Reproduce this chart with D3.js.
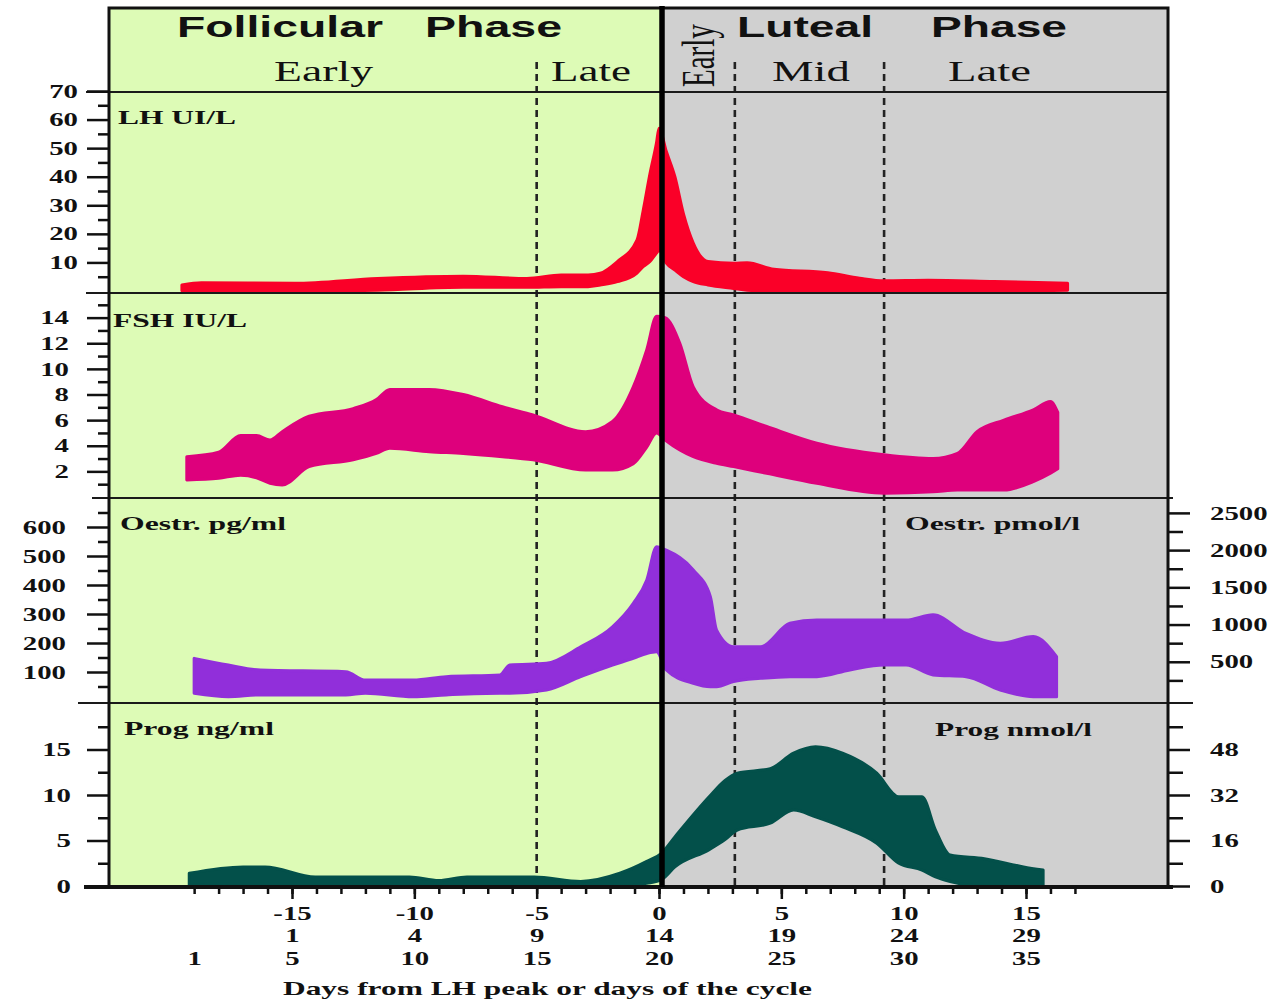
<!DOCTYPE html>
<html>
<head>
<meta charset="utf-8">
<script src="https://cdnjs.cloudflare.com/ajax/libs/d3/7.8.5/d3.min.js"></script>
<style>
  body { margin: 0; background: #fff; }
  svg text { font-family: "Liberation Serif", "Times New Roman", serif; font-weight: bold; fill: #111; }
</style>
</head>
<body>
<div id="chart"></div>
<script>
// days from LH peak, lower and upper edge of each hormone band
var lhDays = [-19.5, -18.7, -14.9, -11.5, -8, -5.4, -4, -2.9, -2.4, -1.7, -0.9, -0.65, -0.37, -0.1, 0, 0.3, 0.65, 1, 1.4, 2, 3.05, 3.6, 4.7, 6.9, 8.2, 9.2, 11, 13.7, 16.7];
var lhLow  = [0.1, 0, 0, 0.3, 1.3, 1.3, 1.5, 1.5, 2.1, 3.3, 6.3, 8.5, 10.3, 13.3, 14.3, 9.8, 7.3, 5, 3.3, 2.1, 0.9, 0.3, 0, 0, 0, 0, 0, 0, 0.3];
var lhHigh = [2.1, 2.9, 2.7, 4.4, 5.2, 4.4, 5.6, 5.6, 6.2, 10.3, 17.8, 28, 41, 52, 57, 48.8, 40, 27, 16.8, 10.3, 9.7, 9.9, 7.6, 6.4, 4.5, 3.6, 3.8, 3.3, 2.7];

var fshDays = [-19.3, -18, -17.1, -16.45, -15.9, -15.4, -14.3, -12.5, -11.55, -11, -9.4, -8, -6.4, -5.15, -3, -1.9, -1.05, -0.5, -0.1, 0.25, 0.85, 1.4, 2.35, 3.05, 4.4, 6.45, 9.2, 11.2, 12.2, 13, 14.1, 15.3, 16, 16.3];
var fshLow  = [1.33, 1.46, 1.7, 1.5, 1.07, 0.94, 2.37, 2.9, 3.4, 3.8, 3.54, 3.4, 3.15, 2.9, 2.1, 2.1, 2.6, 3.9, 5.0, 4.45, 3.67, 3.15, 2.63, 2.37, 1.85, 1.07, 0.3, 0.4, 0.55, 0.55, 0.55, 1.2, 1.85, 2.2];
var fshHigh = [3.15, 3.5, 4.8, 4.8, 4.45, 5.1, 6.3, 6.9, 7.6, 8.4, 8.4, 8.0, 7.05, 6.4, 5.1, 5.9, 8.6, 11.5, 14.1, 14.0, 12.0, 8.6, 6.8, 6.4, 5.5, 4.2, 3.3, 3.0, 3.4, 5.1, 6.0, 6.8, 7.45, 6.6];

var oeDays = [-19, -17.6, -16.3, -12.8, -12, -10.05, -8.7, -6.5, -6.1, -4.6, -3.2, -1.9, -1.05, -0.5, -0.1, 0.3, 1.4, 2.1, 2.35, 3.05, 4.15, 5.35, 6.45, 7.8, 9.2, 10.1, 11.2, 12.55, 13.95, 15.3, 16.25];
var oeLow  = [27, 15, 21, 21, 27, 15, 21, 27, 27, 38, 84, 124, 147, 164, 170, 107, 61, 49, 49, 67, 78, 84, 84, 107, 124, 124, 90, 84, 38, 15, 15];
var oeHigh = [147, 124, 107, 101, 72, 72, 84, 90, 124, 130, 187, 256, 337, 417, 532, 520, 452, 360, 245, 187, 187, 268, 279, 279, 279, 279, 297, 233, 199, 222, 153];

var prDays = [-19.2, -17, -16.1, -14.05, -10.2, -9, -7.85, -5.1, -3.2, -1.6, -0.5, 0.1, 0.65, 2.05, 2.7, 3.2, 4.55, 5.5, 6.4, 7.5, 8.9, 9.8, 10.75, 11.3, 11.9, 13.3, 14.9, 15.7];
var prLow  = [0.1, 0, 0, 0, 0, 0, 0, 0, 0, 0, 0.3, 0.7, 2.1, 4.0, 5.1, 6.15, 6.9, 8.35, 7.6, 6.5, 4.7, 2.5, 1.75, 1.0, 0.5, 0, 0, 0];
var prHigh = [1.4, 2.1, 2.1, 1.0, 1.0, 0.6, 1.0, 1.0, 0.5, 1.4, 2.7, 3.6, 5.4, 9.8, 11.6, 12.4, 12.9, 14.6, 15.3, 14.6, 12.4, 9.8, 9.8, 6.15, 3.4, 3.0, 2.1, 1.75];

// phase borders (dashed lines), days from LH peak
var phaseSplits = [-5, 3.1, 9.2];

// tick labels
var lhTicks = [10, 20, 30, 40, 50, 60, 70];
var fshTicks = [2, 4, 6, 8, 10, 12, 14];
var oeTicks = [100, 200, 300, 400, 500, 600];
var oePmolTicks = [500, 1000, 1500, 2000, 2500];
var prTicks = [0, 5, 10, 15];
var prNmolTicks = [0, 16, 32, 48];
var dayTicks = [-15, -10, -5, 0, 5, 10, 15];
var cycleRow2 = ["1", "4", "9", "14", "19", "24", "29"];
var cycleRow3Days = [-19, -15, -10, -5, 0, 5, 10, 15];
var cycleRow3 = ["1", "5", "10", "15", "20", "25", "30", "35"];

function init() {
    var w = 1282;
    var h = 1002;
    var frameL = 109, frameR = 1168, frameT = 8, frameB = 887;
    var SX = 1.6; // the whole picture is stretched sideways

    var xScale = d3.scaleLinear().domain([-15, 15]).range([292, 1026]);
    var lhY = d3.scaleLinear().domain([0, 70]).range([291, 91]);
    var fshY = d3.scaleLinear().domain([0, 16]).range([497, 292]);
    var oeY = d3.scaleLinear().domain([0, 700]).range([701, 498]);
    var oePmolY = d3.scaleLinear().domain([0, 2700]).range([699, 498]);
    var prY = d3.scaleLinear().domain([0, 20]).range([886, 704]);
    var prNmolY = d3.scaleLinear().domain([0, 64]).range([886, 704]);
    var peakX = xScale(0) + 3;

    var svg = d3.select("#chart")
        .append("svg")
        .attr("width", w)
        .attr("height", h);

    // follicular / luteal backgrounds
    svg.append("rect")
        .attr("x", frameL).attr("y", frameT)
        .attr("width", peakX - frameL).attr("height", frameB - frameT)
        .attr("fill", "#ddfbb6");
    svg.append("rect")
        .attr("x", peakX).attr("y", frameT)
        .attr("width", frameR - peakX).attr("height", frameB - frameT)
        .attr("fill", "#d0d0d0");

    // dashed phase lines
    svg.selectAll(".split")
        .data(phaseSplits)
        .enter()
        .append("line")
        .attr("class", "split")
        .attr("x1", function (d) { return xScale(d); })
        .attr("x2", function (d) { return xScale(d); })
        .attr("y1", 62)
        .attr("y2", frameB)
        .attr("stroke", "#222")
        .attr("stroke-width", 2.6)
        .attr("stroke-dasharray", "7,5");

    // hormone bands
    function band(days, low, high, yScale, color) {
        var rows = days.map(function (d, i) { return [d, low[i], high[i]]; });
        var area = d3.area()
            .x(function (d) { return xScale(d[0]); })
            .y0(function (d) { return yScale(d[1]); })
            .y1(function (d) { return yScale(d[2]); })
            .curve(d3.curveMonotoneX);
        svg.append("path")
            .datum(rows)
            .attr("d", area)
            .attr("fill", color)
            .attr("stroke", color)
            .attr("stroke-width", 3)
            .attr("stroke-linejoin", "round");
    }
    band(lhDays, lhLow, lhHigh, lhY, "#fa0028");
    band(fshDays, fshLow, fshHigh, fshY, "#de007c");
    band(oeDays, oeLow, oeHigh, oeY, "#912fda");
    band(prDays, prLow, prHigh, prY, "#03504a");

    // panel dividers
    var dividers = [[92, 86, frameR], [293, 86, frameR], [498, 92, 1173], [703, 78, 1193]];
    svg.selectAll(".divider")
        .data(dividers)
        .enter()
        .append("line")
        .attr("x1", function (d) { return d[1]; })
        .attr("x2", function (d) { return d[2]; })
        .attr("y1", function (d) { return d[0]; })
        .attr("y2", function (d) { return d[0]; })
        .attr("stroke", "#1a1a1a")
        .attr("stroke-width", 2);

    // frame
    svg.append("rect")
        .attr("x", frameL).attr("y", frameT)
        .attr("width", frameR - frameL).attr("height", frameB - frameT)
        .attr("fill", "none").attr("stroke", "#111").attr("stroke-width", 3);
    svg.append("line")
        .attr("x1", 84).attr("x2", 1173).attr("y1", frameB).attr("y2", frameB)
        .attr("stroke", "#111").attr("stroke-width", 4);
    svg.append("line")
        .attr("x1", peakX).attr("x2", peakX).attr("y1", 6).attr("y2", frameB)
        .attr("stroke", "#000").attr("stroke-width", 5.5);

    // axes
    function styleTicks(g) {
        g.select(".domain").remove();
        g.selectAll(".tick line").attr("stroke", "#111").attr("stroke-width", 2.5);
        g.selectAll("text").style("font-size", "18px");
    }

    function leftAxis(yScale, major, minor, labelEnd) {
        svg.append("g")
            .attr("transform", "translate(" + frameL + ",0)")
            .call(d3.axisLeft(yScale).tickValues(minor).tickSize(11).tickFormat(""))
            .call(styleTicks);
        var g = svg.append("g")
            .attr("transform", "translate(" + frameL + ",0)")
            .call(d3.axisLeft(yScale).tickValues(major).tickSize(22).tickFormat(d3.format("d")))
            .call(styleTicks);
        g.selectAll("text")
            .attr("x", null)
            .attr("dy", "0.34em")
            .attr("text-anchor", "end")
            .attr("transform", "translate(" + labelEnd + ",0) scale(" + SX + ",1)");
    }

    function rightAxis(yScale, major, minor) {
        svg.append("g")
            .attr("transform", "translate(" + frameR + ",0)")
            .call(d3.axisRight(yScale).tickValues(minor).tickSize(15).tickFormat(""))
            .call(styleTicks);
        var g = svg.append("g")
            .attr("transform", "translate(" + frameR + ",0)")
            .call(d3.axisRight(yScale).tickValues(major).tickSize(22).tickFormat(d3.format("d")))
            .call(styleTicks);
        g.selectAll("text")
            .attr("x", null)
            .attr("dy", "0.34em")
            .attr("text-anchor", "start")
            .attr("transform", "translate(42,0) scale(" + SX + ",1)");
    }

    leftAxis(lhY, lhTicks, d3.range(5, 70, 10), -31);
    leftAxis(fshY, fshTicks, d3.range(1, 16, 2), -40);
    leftAxis(oeY, oeTicks, d3.range(50, 700, 100), -43);
    leftAxis(prY, prTicks, [2.5, 7.5, 12.5, 17.5], -38);
    rightAxis(oePmolY, oePmolTicks, d3.range(250, 2500, 500));
    rightAxis(prNmolY, prNmolTicks, [8, 24, 40, 56]);

    // bottom axis: day ticks and three rows of labels
    svg.append("g")
        .attr("transform", "translate(0," + frameB + ")")
        .call(d3.axisBottom(xScale).tickValues(d3.range(-19, 18)).tickSize(7).tickFormat(""))
        .call(styleTicks);

    function bottomRow(values, labels, tickLen, baseline) {
        var g = svg.append("g")
            .attr("transform", "translate(0," + frameB + ")")
            .call(d3.axisBottom(xScale).tickValues(values).tickSize(tickLen)
                .tickFormat(function (d, i) { return labels[i]; }))
            .call(styleTicks);
        g.selectAll("text")
            .attr("y", null)
            .attr("dy", null)
            .attr("transform", "translate(0," + baseline + ") scale(" + SX + ",1)");
    }
    bottomRow(dayTicks, dayTicks.map(String), 12, 33);
    bottomRow(dayTicks, cycleRow2, 0, 55);
    bottomRow(cycleRow3Days, cycleRow3, 0, 78);

    // header texts
    function header(txt, x, y, len, sans) {
        svg.append("text")
            .attr("x", x).attr("y", y)
            .attr("textLength", len)
            .attr("lengthAdjust", "spacingAndGlyphs")
            .style("font-family", sans ? "'Liberation Sans', Arial, sans-serif" : "'Liberation Serif', 'Times New Roman', serif")
            .style("font-weight", sans ? "bold" : "normal")
            .style("font-size", "29px")
            .text(txt);
    }
    header("Follicular", 177, 37, 206, true);
    header("Phase", 425, 37, 137, true);
    header("Luteal", 737, 37, 136, true);
    header("Phase", 931, 37, 136, true);
    header("Early", 274, 81, 99, false);
    header("Late", 551, 81, 80, false);
    header("Mid", 772, 81, 78, false);
    header("Late", 948, 81, 83, false);

    svg.append("text")
        .attr("transform", "translate(714,87) scale(" + SX + ",1) rotate(-90)")
        .style("font-weight", "normal")
        .style("font-size", "29px")
        .text("Early");

    // panel labels
    var panelLabels = [
        ["LH UI/L", 118, 124, 118],
        ["FSH IU/L", 113, 327, 134],
        ["Oestr. pg/ml", 120, 530, 166],
        ["Oestr. pmol/l", 905, 530, 175],
        ["Prog ng/ml", 124, 735, 150],
        ["Prog nmol/l", 935, 736, 157]
    ];
    svg.selectAll(".plabel")
        .data(panelLabels)
        .enter()
        .append("text")
        .attr("x", function (d) { return d[1]; })
        .attr("y", function (d) { return d[2]; })
        .attr("textLength", function (d) { return d[3]; })
        .attr("lengthAdjust", "spacingAndGlyphs")
        .style("font-size", "18px")
        .text(function (d) { return d[0]; });

    // x axis title
    svg.append("text")
        .attr("x", 283)
        .attr("y", 995)
        .attr("textLength", 529)
        .attr("lengthAdjust", "spacingAndGlyphs")
        .style("font-size", "19px")
        .text("Days from LH peak or days of the cycle");
}

window.onload = init;
</script>
</body>
</html>
